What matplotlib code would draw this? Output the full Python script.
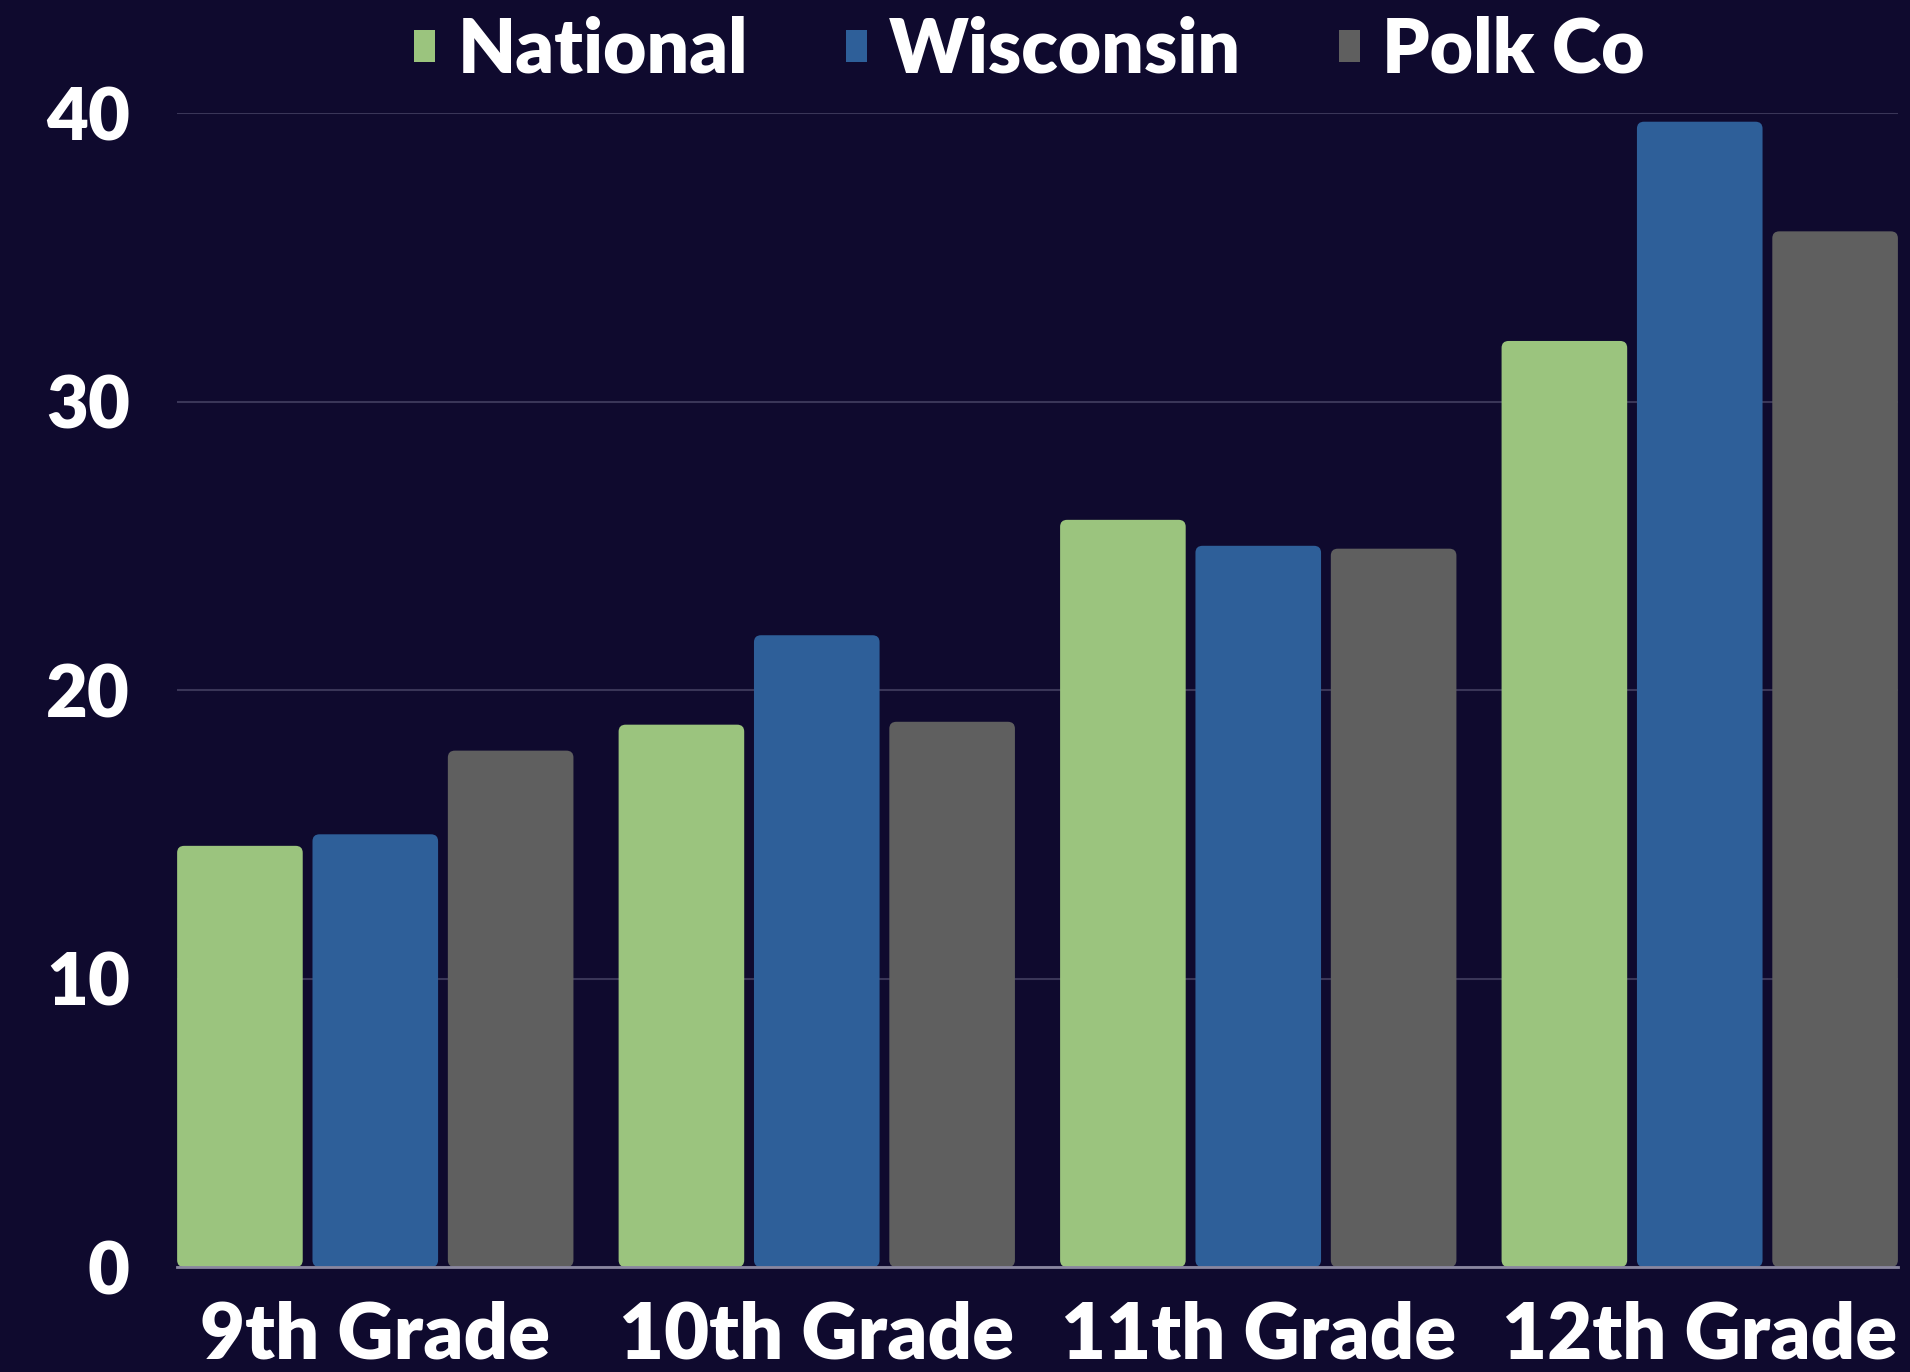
import matplotlib.pyplot as plt
import numpy as np
from matplotlib.patches import FancyBboxPatch, Patch

grades = ["9th Grade", "10th Grade", "11th Grade", "12th Grade"]
series = ["National", "Wisconsin", "Polk Co"]
national = [14.6, 18.8, 25.9, 32.1]
wisconsin = [15.0, 21.9, 25.0, 39.7]
polk_co = [17.9, 18.9, 24.9, 35.9]
y_ticks = [0, 10, 20, 30, 40]

BG = "#0f0a2e"
COLORS = ["#9bc47e", "#2e5f99", "#5f5f5f"]
FONT = ["Lato", "DejaVu Sans"]


def round_bars(ax, bars):
    """Swap each bar rectangle for one with slightly rounded corners"""
    for rect in bars:
        x0, y0 = rect.get_xy()
        w, h = rect.get_width(), rect.get_height()
        patch = FancyBboxPatch((x0, y0), w, h,
                               boxstyle="round,pad=0,rounding_size=0.016",
                               mutation_aspect=15,
                               facecolor=rect.get_facecolor(),
                               edgecolor="none", zorder=2)
        rect.set_visible(False)
        ax.add_patch(patch)


def main():
    plt.rcParams["font.family"] = FONT
    fig = plt.figure(figsize=(19.1, 13.72), dpi=100, facecolor=BG)
    ax = fig.add_axes([0.0927, 0.0765, 0.901, 0.8411], facecolor=BG)

    x = np.arange(len(grades))
    step = 0.3066
    width = 0.2845
    for i, vals in enumerate([national, wisconsin, polk_co]):
        bars = ax.bar(x + (i - 1) * step, vals, width, color=COLORS[i],
                      zorder=2)
        round_bars(ax, bars)

    ax.set_xlim(-0.449, 3.449)
    ax.set_ylim(0, 40)
    ax.set_yticks(y_ticks)
    ax.set_xticks(x)
    ax.set_xticklabels(grades)
    ax.yaxis.grid(True, color="#3a3658", linewidth=1.5, zorder=0)
    ax.set_axisbelow(True)

    for side in ["top", "right", "left"]:
        ax.spines[side].set_visible(False)
    ax.spines["bottom"].set_color("#8a87a0")
    ax.spines["bottom"].set_linewidth(2)
    ax.spines["bottom"].set_zorder(3)

    ax.tick_params(axis="both", length=0, colors="white")
    ax.tick_params(axis="y", labelsize=52, pad=34)
    ax.tick_params(axis="x", labelsize=56, pad=24)
    for lab in ax.get_xticklabels() + ax.get_yticklabels():
        lab.set_fontweight("heavy")

    handles = [Patch(facecolor=c, edgecolor="none") for c in COLORS]
    fig.legend(handles, series, loc="center", bbox_to_anchor=(0.539, 0.963),
               ncol=3, frameon=False, labelcolor="white",
               handlelength=0.28, handleheight=0.28, handletextpad=0.3,
               columnspacing=1.3, prop={"weight": "heavy", "size": 54})

    fig.savefig("out.png", dpi=100, facecolor=BG)


if __name__ == "__main__":
    main()
